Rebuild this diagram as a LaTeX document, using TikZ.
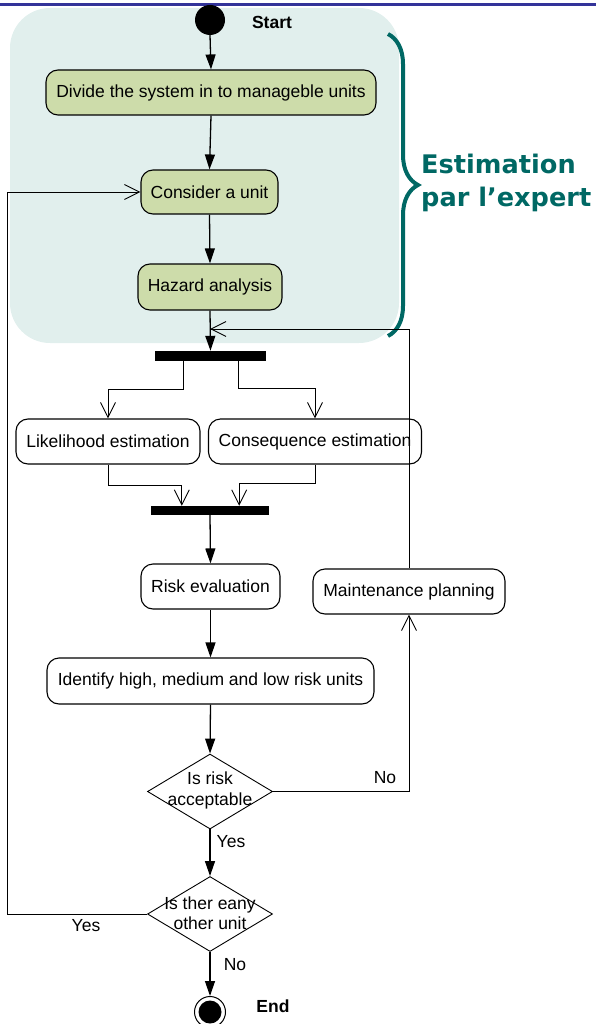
\documentclass[tikz,border=0pt]{standalone}
\usepackage{fontspec}
\setmainfont{Liberation Sans}
\newfontfamily\vfont{DejaVu Sans}
\usetikzlibrary{arrows.meta,shapes.geometric,decorations.pathreplacing}
\definecolor{boxgreen}{RGB}{205,220,170}
\definecolor{shadeteal}{RGB}{225,239,237}
\definecolor{braceteal}{RGB}{0,104,100}
\definecolor{topblue}{RGB}{51,51,153}
\tikzset{
  act/.style={draw,rounded corners=12pt,line width=1.1pt,fill=white,inner sep=2pt,minimum height=45pt,font=\fontsize{17.5}{20}\selectfont},
  actg/.style={act,fill=boxgreen},
  barnode/.style={fill=black,inner sep=0pt,minimum height=10pt},
  dec/.style={draw,diamond,line width=0.9pt,inner sep=0pt,minimum width=125pt,minimum height=75pt},
  lbl/.style={inner sep=0pt,font=\fontsize{17.5}{20}\selectfont},
  blbl/.style={inner sep=0pt,font=\fontsize{17.5}{20}\selectfont\bfseries},
  flow/.style={line width=1.3pt,-{Triangle[length=15pt,width=10pt]}},
  open/.style={line width=0.9pt,-{Straight Barb[length=15pt,width=15pt,line width=0.9pt]}}
}
\begin{document}
\begin{tikzpicture}[x=1pt,y=-1pt]
\useasboundingbox (0,0) rectangle (596,1024);
% shaded region
\fill[shadeteal,rounded corners=40pt] (10,8) rectangle (399,343);
% top blue line
\draw[topblue,line width=3pt] (0,5) -- (596,5);
% brace
\draw[braceteal,line width=4pt,decorate,decoration={brace,amplitude=30pt}] (388,34) -- (388,336);
\node[anchor=west,align=left,text=braceteal,font=\vfont\bfseries\fontsize{25.6}{33}\selectfont,inner sep=0pt] (expert) at (421,183) {Estimation\\par l’expert};
% nodes
\node[circle,fill=black,minimum size=30pt,inner sep=0pt] (start) at (210,20) {};
\node[blbl] (startl) at (272,22) {Start};
\node[actg,minimum width=330pt] (divide) at (211,92.5) {Divide the system in to manageble units};
\node[actg,minimum width=137pt,minimum height=44pt] (consider) at (209.5,192) {Consider a unit};
\node[actg,minimum width=144pt,minimum height=46pt] (hazard) at (210,287) {Hazard analysis};
\node[barnode,minimum width=111pt] (bar1) at (210.5,356) {};
\node[act,minimum width=184pt] (like) at (108,441.5) {Likelihood estimation};
\node[act,minimum width=213pt] (cons) at (315,441.5) {Consequence estimation};
\node[barnode,minimum width=118pt,minimum height=9pt] (bar2) at (210,510.5) {};
\node[act,minimum width=139pt] (risk) at (210.5,586.5) {Risk evaluation};
\node[act,minimum width=192pt] (maint) at (409,591.5) {Maintenance planning};
\node[act,minimum width=327pt,minimum height=46pt] (ident) at (210.5,681) {Identify high, medium and low risk units};
\node[dec] (d1) at (210,791.5) {};
\node[lbl,align=center,font=\fontsize{17.5}{21}\selectfont] (d1t) at (210,790.5) {Is risk\\acceptable};
\node[dec] (d2) at (210,914) {};
\node[lbl,align=center,font=\fontsize{17.5}{20}\selectfont] (d2t) at (210,913) {Is ther eany\\other unit};
\node[circle,draw,line width=1pt,minimum size=31pt,inner sep=0pt] (endc) at (210,1012) {};
\node[circle,fill=black,minimum size=23pt,inner sep=0pt] (endi) at (endc) {};
\node[blbl] (endl) at (273,1006) {End};
\node[lbl] (no1) at (385,778) {No};
\node[lbl] (yes1) at (231,842) {Yes};
\node[lbl] (yes2) at (86,926) {Yes};
\node[lbl] (no2) at (235,965) {No};
\coordinate (ret) at (210,329);
\coordinate (lp) at (7,914);
% connectors
\draw[flow] (start.south) -- (divide.north);
\draw[flow] (divide.south) -- (consider.north);
\draw[flow] (consider.south) -- (hazard.north);
\draw[flow] (hazard.south) -- (bar1.north);
\draw[open] ([xshift=29pt]bar1.south west) -- ++(0,28) -| (like.north);
\draw[open] ([xshift=-28pt]bar1.south east) -- ++(0,27) -| (cons.north);
\draw[open] (like.south) -- ++(0,21) -| ([xshift=31pt]bar2.north west);
\draw[open] (cons.south) -- ++(0,19) -| ([xshift=-30pt]bar2.north east);
\draw[flow] (bar2.south) -- (risk.north);
\draw[flow] (risk.south) -- (ident.north);
\draw[flow] (ident.south) -- (d1.north);
\draw[flow] (d1.south) -- (d2.north);
\draw[flow] (d2.south) -- (endc.north);
\draw[open] (d1.east) -| (maint.south);
\draw[open] (maint.north) |- (ret);
\draw[open] (d2.west) -- (lp) |- (consider.west);
\end{tikzpicture}
\end{document}
